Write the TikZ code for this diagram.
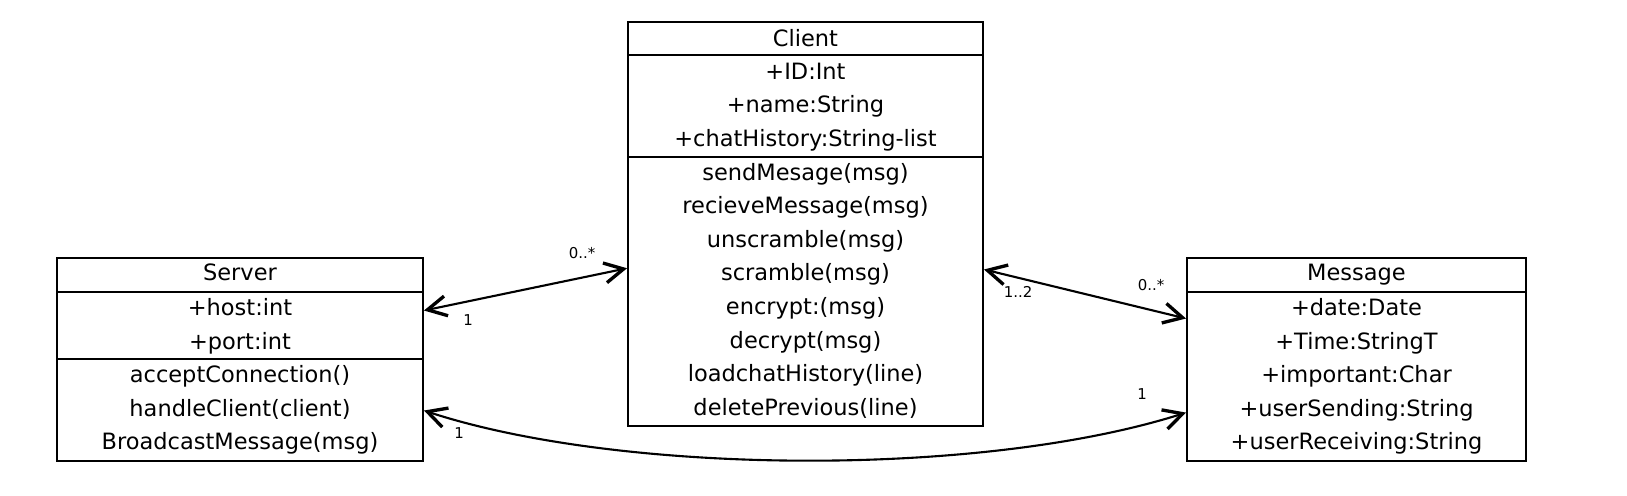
\documentclass[tikz,border=0pt]{standalone}
\usepackage{fontspec}
\setmainfont{DejaVu Sans}
\usetikzlibrary{arrows.meta, calc}

\begin{document}
\begin{tikzpicture}[
  x=0.02cm, y=-0.02cm,
  font=\fontsize{12.8}{15}\selectfont,
  >={Straight Barb[length=3.8mm, width=4mm, line width=1.9pt]},
  cls/.style={draw, line width=1.1pt, inner sep=0pt},
  sep/.style={line width=1.1pt},
  row/.style={inner sep=0pt, text height=1.55ex, text depth=0.35ex},
  mult/.style={font=\fontsize{8.5}{10}\selectfont, inner sep=1pt},
  assoc/.style={<->, line width=1.2pt}
]
\useasboundingbox (0,0) rectangle (1627,495);

% class boxes
\node[cls, minimum width=7.32cm, minimum height=4.06cm] (srv) at (240,359.5) {};
\node[cls, minimum width=7.1cm,  minimum height=8.08cm] (cli) at (805.5,224) {};
\node[cls, minimum width=6.78cm, minimum height=4.06cm] (msg) at (1356.5,359.5) {};

\draw[sep] ($(srv.north west)+(0,35)$)  -- ($(srv.north east)+(0,35)$);
\draw[sep] ($(srv.north west)+(0,102)$) -- ($(srv.north east)+(0,102)$);
\draw[sep] ($(cli.north west)+(0,34)$)  -- ($(cli.north east)+(0,34)$);
\draw[sep] ($(cli.north west)+(0,136)$) -- ($(cli.north east)+(0,136)$);
\draw[sep] ($(msg.north west)+(0,35)$)  -- ($(msg.north east)+(0,35)$);

% names and members
\node[row] (srvT) at (240,275) {Server};
\foreach \t [count=\i] in {+host:int, +port:int, acceptConnection(), handleClient(client), BroadcastMessage(msg)}
  \node[row] (srv\i) at (240,{310+33.5*(\i-1)}) {\t};

\node[row] (cliT) at (805.5,40.4) {Client};
\foreach \t [count=\i] in {+ID:Int, +name:String, +chatHistory:String-list, sendMesage(msg), recieveMessage(msg), unscramble(msg), scramble(msg), encrypt:(msg), decrypt(msg), loadchatHistory(line), deletePrevious(line)}
  \node[row] (cli\i) at (805.5,{73.6+33.6*(\i-1)}) {\t};

\node[row] (msgT) at (1356.5,275) {Message};
\foreach \t [count=\i] in {+date:Date, +Time:StringT, +important:Char, +userSending:String, +userReceiving:String}
  \node[row] (msg\i) at (1356.5,{310+33.5*(\i-1)}) {\t};

% associations
\draw[assoc] ($(srv.north east)!0.261!(srv.south east)$) -- ($(cli.north west)!0.609!(cli.south west)$);
\draw[assoc] ($(cli.north east)!0.612!(cli.south east)$) -- ($(msg.north west)!0.300!(msg.south west)$);
\draw[assoc] ($(srv.north east)!0.749!(srv.south east)$)
  .. controls (620,475) and (980,478) .. ($(msg.north west)!0.759!(msg.south west)$);

% multiplicities
\node[mult] (m1) at (582,253)  {0..*};
\node[mult] (m2) at (468,320)  {1};
\node[mult] (m3) at (1018,292) {1..2};
\node[mult] (m4) at (1151,285) {0..*};
\node[mult] (m5) at (1142,394) {1};
\node[mult] (m6) at (459,433)  {1};
\end{tikzpicture}
\end{document}
